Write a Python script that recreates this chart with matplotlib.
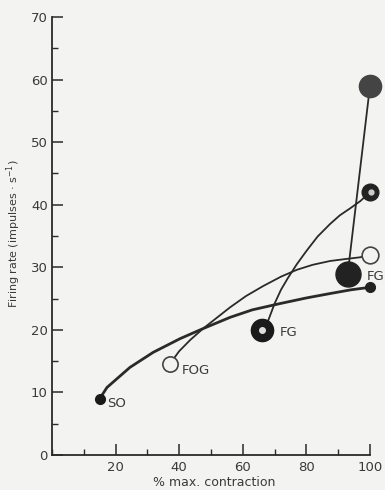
import matplotlib
matplotlib.use("Agg")
import matplotlib.pyplot as plt
from matplotlib.ticker import MultipleLocator

# ---- data ----
so_curve_x = [15, 17.3, 24.5, 31.8, 40.3, 47.5, 56, 63, 71.7, 80, 87.4, 94, 100]
so_curve_y = [9, 10.8, 14.0, 16.4, 18.6, 20.2, 22.0, 23.2, 24.2, 25.1, 25.8, 26.4, 26.8]

fog_curve_x = [37, 40, 43.5, 47.5, 52, 56, 61, 66.4, 72, 77, 82, 87.4, 92, 96.9, 100]
fog_curve_y = [14.5, 16.6, 18.4, 20.2, 22.0, 23.6, 25.4, 27.0, 28.5, 29.6, 30.4, 31.0, 31.3, 31.6, 32]

fg_curve_x = [66, 68, 70, 72, 74.2, 77, 80, 83.5, 87.4, 90.5, 93.7, 97, 100]
fg_curve_y = [20, 21.5, 24.2, 26.4, 28.3, 30.5, 32.6, 34.9, 36.9, 38.3, 39.4, 40.6, 42]

fg2_line_x = [93, 100]
fg2_line_y = [29, 59]

point_labels = ["SO", "FOG", "FG", "FG"]
label_pos_x = [17.3, 40.8, 71.6, 99]
label_pos_y = [8.3, 13.5, 19.6, 28.6]

xticks_major = [20, 40, 60, 80, 100]
yticks_major = [0, 10, 20, 30, 40, 50, 60, 70]

ink = "#2a2a2a"
bg = "#f3f3f1"

W, H = 385, 490
fig = plt.figure(figsize=(W / 100, H / 100), dpi=100, facecolor=bg)

x0px, x100px = 52, 370
y0px, y70px = 455, 17
ppu_x = (x100px - x0px) / 100
xmax = (W - x0px) / ppu_x
ax = fig.add_axes([x0px / W, (H - y0px) / H, (W - x0px) / W, (y0px - y70px) / H])
ax.set_facecolor(bg)
ax.set_xlim(0, xmax)
ax.set_ylim(0, 70)

for s in ["top", "right"]:
    ax.spines[s].set_visible(False)
ax.spines["left"].set_bounds(0, 70)
ax.spines["bottom"].set_bounds(0, 100)
for s in ["left", "bottom"]:
    ax.spines[s].set_color(ink)
    ax.spines[s].set_linewidth(1.3)

ax.set_xticks(xticks_major)
ax.set_xticklabels([str(v) for v in xticks_major])
ax.xaxis.set_minor_locator(MultipleLocator(10))
ax.set_yticks(yticks_major)
ax.set_yticklabels([str(v) for v in yticks_major])
ax.yaxis.set_minor_locator(MultipleLocator(5))
ax.tick_params(which="major", direction="in", length=8, width=1.1, colors=ink,
               labelsize=9.5, labelcolor="#3a3a3a")
ax.tick_params(which="minor", direction="in", length=4, width=1.0, colors=ink)
ax.tick_params(axis="x", pad=4)
ax.tick_params(axis="y", pad=3)

# curves
ax.plot(so_curve_x, so_curve_y, color=ink, lw=2.0, solid_capstyle="round", zorder=3)
ax.plot(fog_curve_x, fog_curve_y, color=ink, lw=1.3, zorder=3)
ax.plot(fg_curve_x, fg_curve_y, color=ink, lw=1.3, zorder=3)
ax.plot(fg2_line_x, fg2_line_y, color=ink, lw=1.3, zorder=3)

# markers
ax.plot(so_curve_x[0], so_curve_y[0], "o", ms=7, color="#1a1a1a", zorder=5, clip_on=False)
ax.plot(fog_curve_x[0], fog_curve_y[0], "o", ms=11, mfc=bg, mec="#444444", mew=1.2, zorder=5)
ax.plot(fg_curve_x[0], fg_curve_y[0], "o", ms=16, color="#1a1a1a", zorder=5)
ax.plot(fg_curve_x[0], fg_curve_y[0], "o", ms=4, color="#dddddd", zorder=6)
ax.plot(fg2_line_x[0], fg2_line_y[0], "o", ms=18, color="#222222", zorder=5)
ax.plot(fg2_line_x[1], fg2_line_y[1], "o", ms=16, color="#444444", zorder=5, clip_on=False)
ax.plot(fg_curve_x[-1], fg_curve_y[-1], "o", ms=12, color="#222222", zorder=5, clip_on=False)
ax.plot(fg_curve_x[-1] + 0.3, fg_curve_y[-1], "o", ms=3.5, color="#cccccc", zorder=6, clip_on=False)
ax.plot(fog_curve_x[-1], fog_curve_y[-1], "o", ms=12, mfc=bg, mec="#444444", mew=1.2, zorder=5, clip_on=False)
ax.plot(so_curve_x[-1], so_curve_y[-1], "o", ms=7, color="#222222", zorder=5, clip_on=False)

for t, lx, ly in zip(point_labels, label_pos_x, label_pos_y):
    ax.text(lx, ly, t, fontsize=9.5, color="#3a3a3a", va="center", ha="left", zorder=7)

fig.text(214 / W, 1 - 482 / H, "% max. contraction", fontsize=9, color="#3a3a3a",
         ha="center", va="center")
fig.text(14 / W, 1 - 234 / H, "Firing rate (impulses · s$^{-1}$)", fontsize=8,
         color="#3a3a3a", ha="center", va="center", rotation=90)

fig.savefig("out.png", dpi=100, facecolor=bg)
